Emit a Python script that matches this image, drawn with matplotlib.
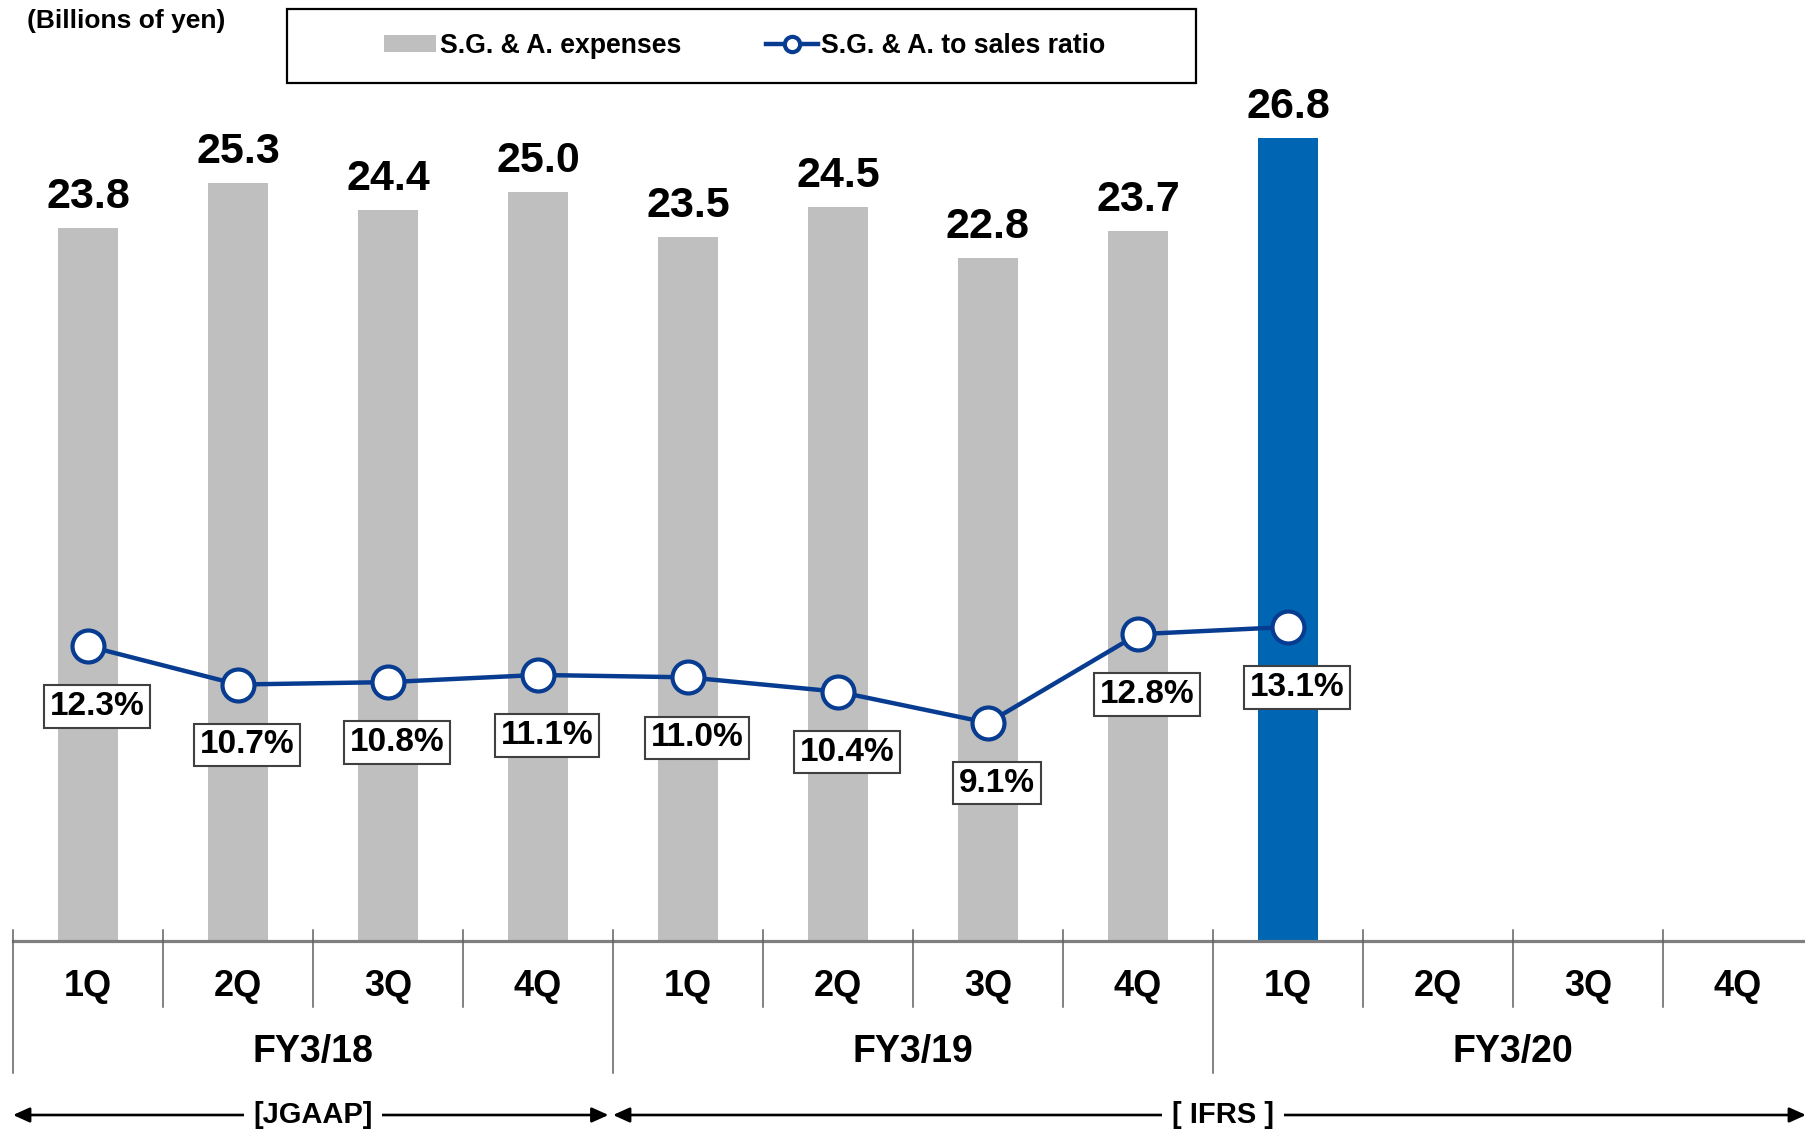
import numpy as np
import matplotlib
matplotlib.use("Agg")
import matplotlib.pyplot as plt
import matplotlib.transforms as mtransforms
from matplotlib.patches import Rectangle, Patch
from matplotlib.lines import Line2D

plt.rcParams['font.family'] = ['Liberation Sans', 'DejaVu Sans']
plt.rcParams['font.weight'] = 'bold'

# ---------------- data ----------------
quarters = ["1Q", "2Q", "3Q", "4Q", "1Q", "2Q", "3Q", "4Q", "1Q", "2Q", "3Q", "4Q"]
fiscal_years = ["FY3/18", "FY3/19", "FY3/20"]
sga_expenses = [23.8, 25.3, 24.4, 25.0, 23.5, 24.5, 22.8, 23.7, 26.8, np.nan, np.nan, np.nan]
sga_ratio = [12.3, 10.7, 10.8, 11.1, 11.0, 10.4, 9.1, 12.8, 13.1, np.nan, np.nan, np.nan]
standards = ["[JGAAP]", "[ IFRS ]"]
unit_label = "(Billions of yen)"
legend_labels = ["S.G. & A. expenses", "S.G. & A. to sales ratio"]

# ---------------- style ----------------
GRAY = "#BFBFBF"
BLUE_BAR = "#0066B3"
LINE_BLUE = "#083C91"
W, H = 1806, 1130
DPI = 100

fig = plt.figure(figsize=(W / DPI, H / DPI), dpi=DPI)

ax_left_px, ax_right_px = 13, 1813
ax_bottom_px, ax_top_px = 941, 41
ax = fig.add_axes([ax_left_px / W, 1 - ax_bottom_px / H,
                   (ax_right_px - ax_left_px) / W, (ax_bottom_px - ax_top_px) / H])
ax_h_px = ax_bottom_px - ax_top_px

n = len(quarters)
x = np.arange(n)
vals = np.array(sga_expenses, dtype=float)
ratios = np.array(sga_ratio, dtype=float)
last = int(np.max(np.where(~np.isnan(vals))[0]))
colors = [BLUE_BAR if i == last else GRAY for i in range(n)]

ax.bar(x, np.nan_to_num(vals), width=0.4, color=colors, zorder=2)
ax.set_xlim(-0.5, n - 0.5)
ax.set_ylim(0, ax_h_px / 29.96)
for s in ax.spines.values():
    s.set_visible(False)
ax.set_xticks([])
ax.set_yticks([])

for xi, v in zip(x, vals):
    if np.isnan(v):
        continue
    ax.annotate(f"{v:.1f}", (xi, v), xytext=(0, 14.4), textcoords="offset points",
                ha="center", va="baseline", fontsize=31, fontweight="bold", color="black")

ax2 = ax.twinx()
ax2.set_ylim(0, ax_h_px / 23.97)
ax2.set_yticks([])
for s in ax2.spines.values():
    s.set_visible(False)
ax2.plot(x, ratios, color=LINE_BLUE, lw=3.2, marker="o", markersize=23,
         markerfacecolor="white", markeredgecolor=LINE_BLUE, markeredgewidth=3.0,
         zorder=3, clip_on=False)
for xi, r in zip(x, ratios):
    if np.isnan(r):
        continue
    ax2.annotate(f"{r:.1f}%", (xi, r), xytext=(6.5, -43.5), textcoords="offset points",
                 ha="center", va="center", fontsize=24, fontweight="bold", color="black",
                 bbox=dict(boxstyle="square,pad=0.17", facecolor="white",
                           edgecolor="#404040", linewidth=1.5), zorder=5)

# ---------------- category axis ----------------
def yfrac(py):
    return (ax_bottom_px - py) / ax_h_px

trans = mtransforms.blended_transform_factory(ax.transData, ax.transAxes)
ax.axhline(0, color="#7F7F7F", lw=2.3, zorder=4, clip_on=False)

for b in range(n + 1):
    bx = b - 0.5
    y_end = 1073 if b % 4 == 0 else 1007
    ax.plot([bx, bx], [yfrac(930), yfrac(y_end)], transform=trans, color="#606060",
            lw=1.1, clip_on=False, zorder=4)

for xi, q in zip(x, quarters):
    ax.text(xi, yfrac(987), q, transform=trans, ha="center", va="center",
            fontsize=26, fontweight="bold")
for k, fy in enumerate(fiscal_years):
    ax.text(4 * k + 1.5, yfrac(1052), fy, transform=trans, ha="center", va="center",
            fontsize=27, fontweight="bold")

# accounting standard arrows
y_arr = yfrac(1115)
x_right_edge = (W - ax_left_px) / 150 - 0.5
arrow_spans = [(-0.5, 3.47), (3.5, x_right_edge)]
text_x = [1.5, (1223 - ax_left_px) / 150 - 0.5]
for (x0, x1), label, tx in zip(arrow_spans, standards, text_x):
    ax.annotate("", xy=(x0, y_arr), xytext=(x1, y_arr), xycoords=trans, textcoords=trans,
                arrowprops=dict(arrowstyle="<|-|>,head_length=1.0,head_width=0.45",
                                color="black", lw=1.9, shrinkA=0, shrinkB=0),
                annotation_clip=False)
    ax.text(tx, y_arr, label, transform=trans, ha="center", va="center",
            fontsize=21, fontweight="bold",
            bbox=dict(boxstyle="square,pad=0.33", facecolor="white", edgecolor="none"),
            zorder=6)

# ---------------- unit label & legend ----------------
fig.text(27 / W, 1 - 21 / H, unit_label, ha="left", va="center", fontsize=19,
         fontweight="bold")

fig.patches.append(Rectangle((287 / W, 1 - 83 / H), (1196 - 287) / W, (83 - 9) / H,
                             transform=fig.transFigure, facecolor="white",
                             edgecolor="black", linewidth=1.6, zorder=1))
handles = [Patch(facecolor=GRAY, edgecolor="none"),
           Line2D([0], [0], color=LINE_BLUE, lw=3.2, marker="o", markersize=11,
                  markerfacecolor="white", markeredgecolor=LINE_BLUE, markeredgewidth=3.0)]
leg = fig.legend(handles, legend_labels, loc="center", ncol=2,
                 bbox_to_anchor=(745 / W, 1 - 46 / H), frameon=False,
                 prop=dict(size=19.2, weight="bold"), handlelength=1.95,
                 handleheight=0.6, handletextpad=0.12, columnspacing=3.2)

fig.savefig("out.png", dpi=DPI)
